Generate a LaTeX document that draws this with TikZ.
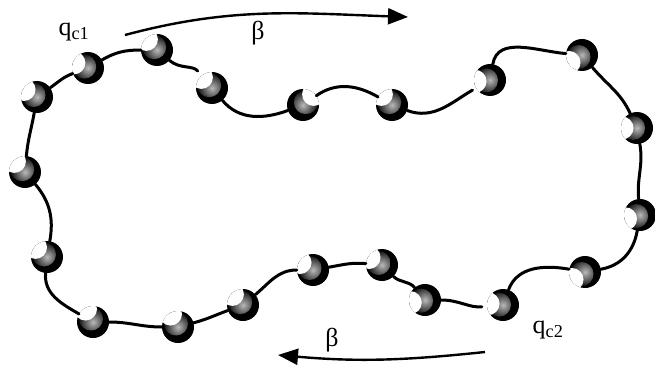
\documentclass[tikz,border=0pt]{standalone}
\usepackage{fontspec}
\setmainfont{Liberation Serif}
\usetikzlibrary{arrows.meta}

\begin{document}
\begin{tikzpicture}
  [x=1pt,y=1pt,
   bead/.style={circle,minimum size=32pt,inner sep=0pt,fill=black,
     path picture={
       \shade[inner color=gray!55,outer color=black]
         (path picture bounding box.center) ++(#1:4pt) circle (12pt);
       \fill[white] (path picture bounding box.center) ++(#1:15pt) circle (11.5pt);}},
   chain/.style={line width=3pt,line cap=round},
   flow/.style={line width=2.4pt,-{Triangle[length=20pt,width=16pt]}},
   lbl/.style={font=\fontsize{26}{28}\selectfont}]
  \useasboundingbox (0,0) rectangle (655,370);

  % the beads, with the side their notch faces
  \foreach \i/\x/\y/\a in {1/37/273/150, 2/88/302/160, 3/157/320/135,
      4/212/282/135, 5/303/265/45, 6/392/265/135, 7/490/290/185,
      8/582/315/210, 9/637/242/180, 10/640/155/195, 11/585/98/210,
      12/503/65/175, 13/425/70/190, 14/382/105/150, 15/313/100/150,
      16/243/65/135, 17/178/43/120, 18/93/48/120, 19/47/113/140,
      20/25/198/135}
    \node[bead=\a] (b\i) at (\x,\y) {};

  % the string between them
  \foreach \from/\to/\o/\n in {b1/b2/35/200, b2/b3/30/180,
      b4/b5/-50/200, b5/b6/35/150, b7/b8/80/175, b8/b9/-50/115,
      b9/b10/-80/95, b10/b11/-100/10, b11/b12/170/70, b13/b14/130/-45,
      b14/b15/175/10, b15/b16/180/40, b16/b17/200/15, b17/b18/180/0,
      b18/b19/150/-95, b19/b20/80/-50, b20/b1/85/-100}
    \draw[chain] (\from) to[out=\o,in=\n] (\to);
  \draw[chain,shorten >=6pt] (b3) to[out=-40,in=130] (b4);
  \draw[chain,shorten >=4pt] (b6) to[out=-20,in=210] (b7);
  \draw[chain,shorten <=5pt] (b12) to[out=185,in=0] (b13);

  % direction of travel
  \coordinate (t1) at (125,335);
  \coordinate (t2) at (408,353);
  \coordinate (u1) at (485,18);
  \coordinate (u2) at (278,15);
  \draw[flow] (t1) to[out=15,in=178] (t2);
  \draw[flow] (u1) to[out=186,in=-5] (u2);

  \node[lbl] (qc1) at (74,338) {q\textsubscript{c1}};
  \node[lbl] (beta1) at (258,337) {β};
  \node[lbl] (beta2) at (332,30) {β};
  \node[lbl] (qc2) at (548,40) {q\textsubscript{c2}};
\end{tikzpicture}
\end{document}
